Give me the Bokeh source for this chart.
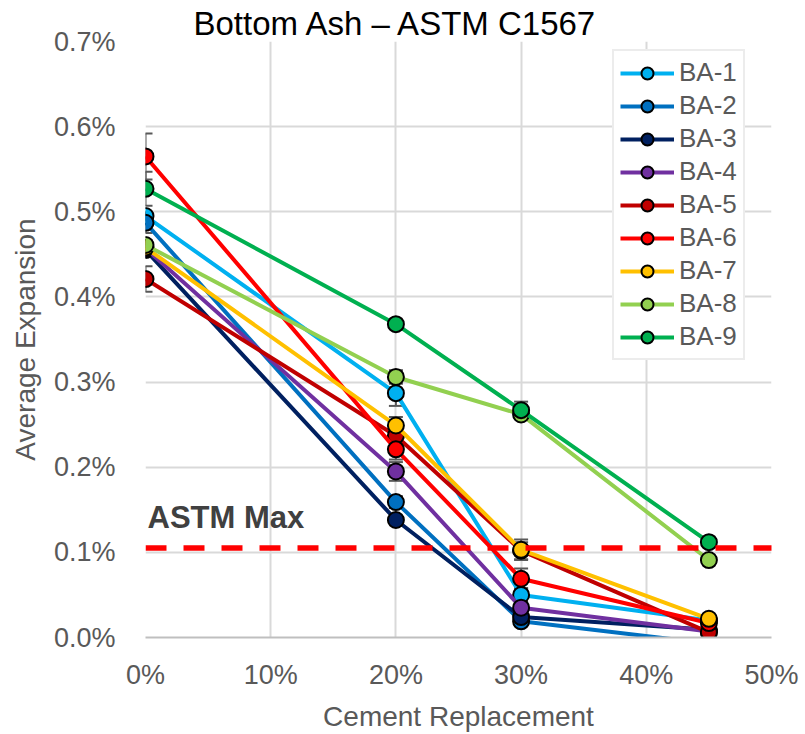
import numpy as np
from bokeh.plotting import figure
from bokeh.models import (Range1d, FixedTicker, NumeralTickFormatter, Legend, LegendItem,
                          Label, Arrow, Whisker, ColumnDataSource, TeeHead)
from bokeh.embed import file_html
from bokeh.resources import INLINE

# ---------------- data (percent expansion) ----------------
replacement = [0.0, 0.20, 0.30, 0.45]
series_names = ["BA-1", "BA-2", "BA-3", "BA-4", "BA-5", "BA-6", "BA-7", "BA-8", "BA-9"]
ba1 = [0.495, 0.287, 0.050, 0.020]
ba2 = [0.487, 0.159, 0.019, -0.007]
ba3 = [0.455, 0.138, 0.024, 0.009]
ba4 = [0.457, 0.195, 0.035, 0.007]
ba5 = [0.421, 0.237, 0.102, 0.006]
ba6 = [0.565, 0.221, 0.069, 0.017]
ba7 = [0.458, 0.249, 0.103, 0.022]
ba8 = [0.461, 0.306, 0.262, 0.091]
ba9 = [0.527, 0.368, 0.267, 0.112]
# error bar half-widths (percent)
err1 = [0.005, 0.015, 0.008, 0.003]
err2 = [0.012, 0.007, 0.004, 0.003]
err3 = [0.005, 0.004, 0.004, 0.002]
err4 = [0.005, 0.011, 0.005, 0.002]
err5 = [0.015, 0.008, 0.010, 0.002]
err6 = [0.027, 0.012, 0.012, 0.003]
err7 = [0.008, 0.010, 0.012, 0.003]
err8 = [0.006, 0.008, 0.005, 0.003]
err9 = [0.020, 0.005, 0.010, 0.004]
astm_max = 0.105
y_ticks = [0.0, 0.1, 0.2, 0.3, 0.4, 0.5, 0.6, 0.7]
x_ticks = [0.0, 0.1, 0.2, 0.3, 0.4, 0.5]

values = [ba1, ba2, ba3, ba4, ba5, ba6, ba7, ba8, ba9]
errors = [err1, err2, err3, err4, err5, err6, err7, err8, err9]
colors = ["#00B0F0", "#0070C0", "#002060", "#7030A0", "#C00000",
          "#FF0000", "#FFC000", "#92D050", "#00B050"]

FONT = "Liberation Sans"
GREY = "#595959"

p = figure(width=805, height=734, output_backend="svg", toolbar_location=None,
           x_range=Range1d(0, x_ticks[-1]), y_range=Range1d(0, y_ticks[-1] / 100),
           min_border_left=145, min_border_right=34, min_border_top=41, min_border_bottom=94)
p.outline_line_color = None
p.background_fill_color = "white"
p.border_fill_color = "white"

# title
p.title.text = "Bottom Ash \u2013 ASTM C1567"
p.title.text_font = FONT
p.title.text_font_size = "33px"
p.title.text_font_style = "normal"
p.title.text_color = "black"
p.title.align = "left"
p.title.offset = 48
p.title.standoff = 0

# grid
p.xgrid.ticker = FixedTicker(ticks=x_ticks)
p.ygrid.ticker = FixedTicker(ticks=[t / 100 for t in y_ticks])
p.xgrid.grid_line_color = "#d9d9d9"
p.ygrid.grid_line_color = "#d9d9d9"
p.xgrid.grid_line_width = 2
p.ygrid.grid_line_width = 2

# axes
p.xaxis.ticker = FixedTicker(ticks=x_ticks)
p.yaxis.ticker = FixedTicker(ticks=[t / 100 for t in y_ticks])
p.xaxis.formatter = NumeralTickFormatter(format="0%")
p.yaxis.formatter = NumeralTickFormatter(format="0.0%")
for ax in (p.xaxis[0], p.yaxis[0]):
    ax.major_tick_line_color = None
    ax.minor_tick_line_color = None
    ax.major_label_text_font = FONT
    ax.major_label_text_font_size = "27px"
    ax.major_label_text_color = GREY
    ax.axis_label_text_font = FONT
    ax.axis_label_text_font_size = "28px"
    ax.axis_label_text_font_style = "normal"
    ax.axis_label_text_color = GREY
p.yaxis.axis_line_color = None
p.xaxis.axis_line_color = "#bfbfbf"
p.xaxis.axis_line_width = 2
p.xaxis.axis_label = "Cement Replacement"
p.yaxis.axis_label = "Average Expansion"
p.yaxis.major_label_standoff = 24
p.xaxis.major_label_standoff = 16
p.yaxis.axis_label_standoff = 10
p.xaxis.axis_label_standoff = 8

# ASTM max line
p.add_layout(Arrow(end=None, x_start=0, y_start=astm_max / 100, x_end=0.52, y_end=astm_max / 100,
                   line_color="#FF0000", line_width=5.5, line_dash="21 17"))
p.add_layout(Label(x=0, y=astm_max / 100, x_offset=2, y_offset=13, text="ASTM Max",
                   text_font=FONT, text_font_size="31px", text_font_style="bold",
                   text_color="#404040", text_baseline="bottom"))

# series
items = []
for name, vals, errs, col in zip(series_names, values, errors, colors):
    y = np.array(vals) / 100
    e = np.array(errs) / 100
    src = ColumnDataSource(dict(x=replacement, y=y, lo=y - e, hi=y + e))
    w = Whisker(source=src, base="x", lower="lo", upper="hi", line_color=GREY, line_width=2,
                upper_head=TeeHead(size=14, line_color=GREY, line_width=2),
                lower_head=TeeHead(size=14, line_color=GREY, line_width=2),
                level="underlay")
    p.add_layout(w)
    r1 = p.line("x", "y", source=src, line_color=col, line_width=4)
    r2 = p.scatter("x", "y", source=src, size=16, fill_color=col, line_color="black", line_width=2)
    items.append(LegendItem(label=name, renderers=[r1, r2]))

legend = Legend(items=items, location=(612 - 145, 640 - 363))
legend.label_text_font = FONT
legend.label_text_font_size = "26px"
legend.label_text_color = GREY
legend.glyph_width = 54
legend.glyph_height = 30
legend.label_height = 30
legend.spacing = 2
legend.padding = 6
legend.margin = 0
legend.label_standoff = 5
legend.border_line_color = "#d9d9d9"
legend.border_line_width = 2
legend.background_fill_color = "white"
legend.background_fill_alpha = 1
p.add_layout(legend)

open("out.html", "w").write(file_html(p, INLINE))
